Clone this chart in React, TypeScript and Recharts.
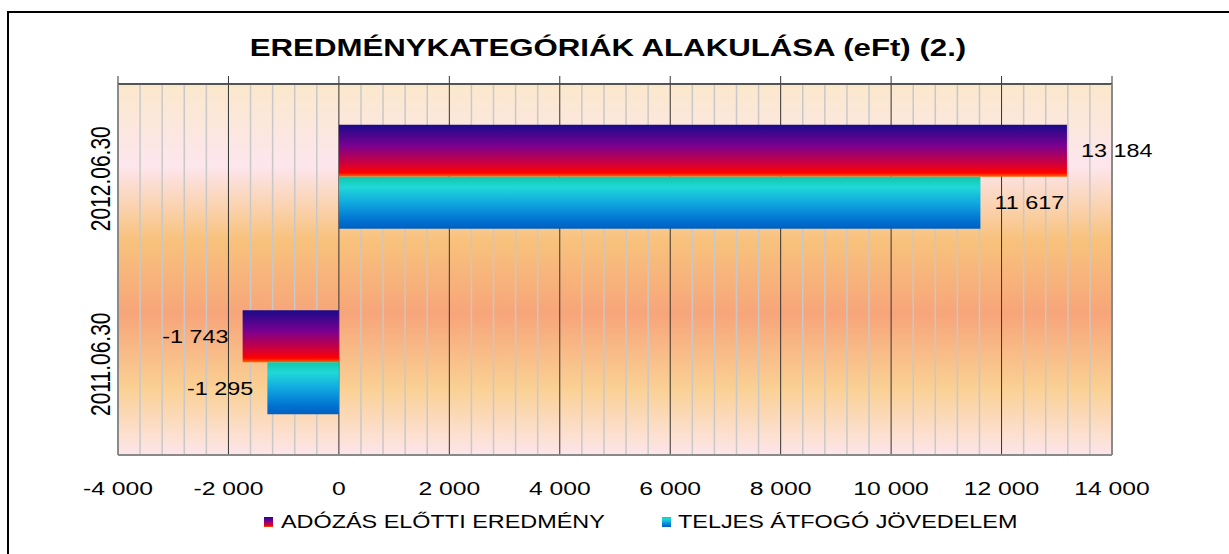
import React from "react";
import {
  Bar, BarChart, CartesianGrid, LabelList, ReferenceLine, XAxis, YAxis,
} from "recharts";

const categories = ["2012.06.30", "2011.06.30"];
const adozasElotti = [13184, -1743];
const teljesAtfogo = [11617, -1295];
const majorTicks = [-4000, -2000, 0, 2000, 4000, 6000, 8000, 10000, 12000, 14000];
const seriesNames = ["ADÓZÁS ELŐTTI EREDMÉNY", "TELJES ÁTFOGÓ JÖVEDELEM"];

const data = categories.map((cat, i) => ({
  cat,
  adozas: adozasElotti[i],
  teljes: teljesAtfogo[i],
}));

// light grid every 400, dark grid on the inner major ticks
const minorLines = Array.from({ length: 46 }, (_, i) => -4000 + i * 400).filter(
  (v) => v % 2000 !== 0,
);
const majorLines = majorTicks.slice(1, -1);

const S = 1.3; // the original picture is stretched sideways
const FONT = "'Liberation Sans', Arial, sans-serif";
const MARGIN = { top: 84, right: 117, left: 78, bottom: 39 };

const fmt = (v: number) =>
  (v < 0 ? "-" : "") + Math.abs(v).toString().replace(/\B(?=(\d{3})+(?!\d))/g, " ");

// bottom labels, plus the small tick marks sitting on top of the plot
const XTick = ({ x, y, payload }: any) => (
  <g>
    <line x1={x} x2={x} y1={MARGIN.top - 8} y2={MARGIN.top} stroke="#333" strokeWidth={1} />
    <text
      transform={`translate(${x},${y + 40}) scale(${S},1)`}
      textAnchor="middle"
      fontSize={19}
      fontFamily={FONT}
      fill="#000"
    >
      {fmt(payload.value)}
    </text>
  </g>
);

const YTick = ({ y, payload }: any) => (
  <text
    transform={`translate(100,${y + 2}) scale(${S},1) rotate(-90)`}
    textAnchor="middle"
    dy="0.35em"
    fontSize={21}
    fontFamily={FONT}
    fill="#000"
  >
    {payload.value}
  </text>
);

const BarLabel = (props: any) => {
  const { x, y, width, height, value } = props;
  const pos = value >= 0;
  const end = pos ? Math.max(x, x + width) : Math.min(x, x + width);
  return (
    <text
      transform={`translate(${pos ? end + 14 : end - 14},${y + height / 2}) scale(${S},1)`}
      textAnchor={pos ? "start" : "end"}
      dy="0.35em"
      fontSize={18}
      fontFamily={FONT}
      fill="#000"
    >
      {fmt(value)}
    </text>
  );
};

const legendIcon = (grad: string) => ({
  position: "absolute" as const,
  width: 9,
  height: 10,
  background: grad,
});

const legendText = {
  position: "absolute" as const,
  fontFamily: FONT,
  fontSize: 18,
  lineHeight: "20px",
  transform: `scaleX(${S})`,
  transformOrigin: "left center",
  whiteSpace: "nowrap" as const,
  color: "#000",
};

const purpleGrad = "linear-gradient(#1a0a8a, #7a0090 40%, #d0003a 75%, #ff0000 90%, #ff6a00)";
const cyanGrad = "linear-gradient(#10c8a8, #20d8d8 20%, #10a8e0 50%, #0070d0 85%, #0060c0)";

export default function App() {
  return (
    <div style={{ position: "absolute", left: 0, top: 0, width: 1229, height: 554, background: "#fff", overflow: "hidden" }}>
      <div
        style={{
          position: "absolute", left: 7, top: 11, width: 1222, height: 543,
          borderTop: "2px solid #000", borderLeft: "2px solid #000", boxSizing: "border-box",
        }}
      />
      <div
        style={{
          position: "absolute", left: 0, top: 34, width: 1216, textAlign: "center",
          fontFamily: FONT, fontWeight: "bold", fontSize: 24, lineHeight: "28px",
          transform: `scaleX(${S})`, color: "#000",
        }}
      >
        EREDMÉNYKATEGÓRIÁK ALAKULÁSA (eFt) (2.)
      </div>

      <div style={{ position: "absolute", left: 0, top: 0 }}>
        <BarChart
          width={1229}
          height={554}
          data={data}
          layout="vertical"
          margin={MARGIN}
          barCategoryGap="22%"
          barGap={0}
        >
          <defs>
            <linearGradient id="bg" x1="0" y1="0" x2="0" y2="1">
              <stop offset="0%" stopColor="#fbe8cb" />
              <stop offset="22%" stopColor="#fde6ee" />
              <stop offset="42%" stopColor="#f8c27c" />
              <stop offset="62%" stopColor="#f7a57a" />
              <stop offset="82%" stopColor="#fad094" />
              <stop offset="100%" stopColor="#fde6ea" />
            </linearGradient>
            <linearGradient id="purple" x1="0" y1="0" x2="0" y2="1">
              <stop offset="0%" stopColor="#1a0a8a" />
              <stop offset="40%" stopColor="#7a0090" />
              <stop offset="75%" stopColor="#d0003a" />
              <stop offset="92%" stopColor="#ff0000" />
              <stop offset="100%" stopColor="#ff6a00" />
            </linearGradient>
            <linearGradient id="cyan" x1="0" y1="0" x2="0" y2="1">
              <stop offset="0%" stopColor="#10c8a8" />
              <stop offset="20%" stopColor="#20d8d8" />
              <stop offset="50%" stopColor="#10a8e0" />
              <stop offset="85%" stopColor="#0070d0" />
              <stop offset="100%" stopColor="#0060c0" />
            </linearGradient>
          </defs>
          <CartesianGrid
            horizontal={false}
            verticalValues={minorLines}
            stroke="#c8c8c8"
            strokeWidth={1.5}
            fill="url(#bg)"
            fillOpacity={1}
          />
          <CartesianGrid horizontal={false} verticalValues={majorLines} stroke="#333" strokeWidth={1} />
          <CartesianGrid
            vertical={false}
            horizontalCoordinatesGenerator={({ offset }: any) => [offset.top]}
            stroke="#555"
            strokeWidth={2}
          />
          <XAxis
            type="number"
            domain={[-4000, 14000]}
            ticks={majorTicks}
            interval={0}
            allowDataOverflow
            height={60}
            axisLine={{ stroke: "#8a8a8a", strokeWidth: 2 }}
            tickLine={false}
            tickSize={0}
            tickMargin={0}
            tick={<XTick />}
          />
          <YAxis
            type="category"
            dataKey="cat"
            width={40}
            axisLine={{ stroke: "#8a8a8a", strokeWidth: 2 }}
            tickLine={false}
            tick={<YTick />}
          />
          <ReferenceLine x={14000} stroke="#8a8a8a" strokeWidth={2} />
          <Bar dataKey="adozas" name={seriesNames[0]} fill="url(#purple)" isAnimationActive={false}>
            <LabelList dataKey="adozas" content={<BarLabel />} />
          </Bar>
          <Bar dataKey="teljes" name={seriesNames[1]} fill="url(#cyan)" isAnimationActive={false}>
            <LabelList dataKey="teljes" content={<BarLabel />} />
          </Bar>
        </BarChart>
      </div>

      <div style={{ ...legendIcon(purpleGrad), left: 264, top: 517 }} />
      <div style={{ ...legendText, left: 281, top: 512 }}>{seriesNames[0]}</div>
      <div style={{ ...legendIcon(cyanGrad), left: 662, top: 517 }} />
      <div style={{ ...legendText, left: 678, top: 512 }}>{seriesNames[1]}</div>
    </div>
  );
}
